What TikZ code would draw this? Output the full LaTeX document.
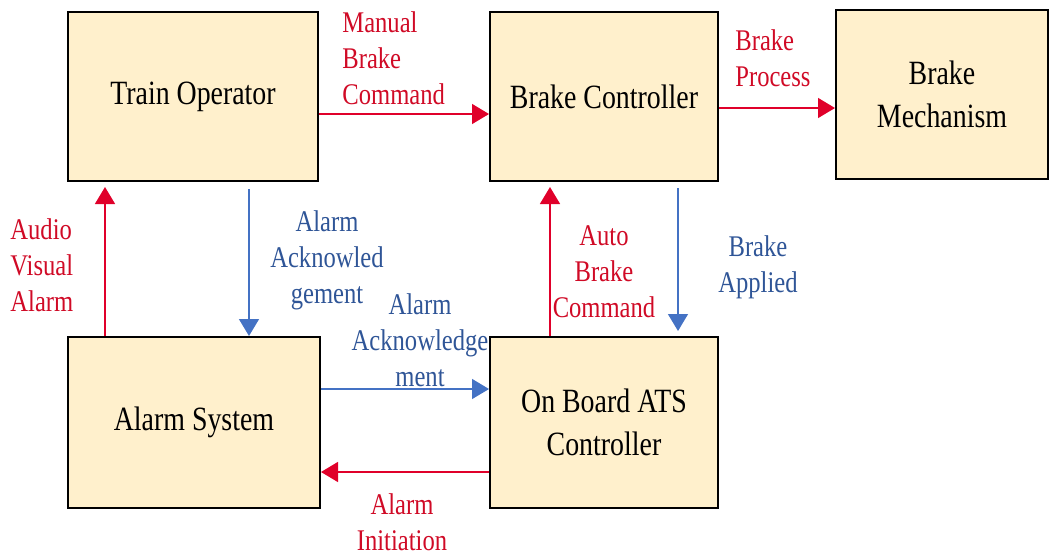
\documentclass[tikz,border=0pt]{standalone}
\usepackage{fontspec}
\setmainfont{Liberation Serif}[FakeStretch=0.82]
\usetikzlibrary{arrows.meta}

\definecolor{boxfill}{HTML}{FFF0CC}
\definecolor{linered}{HTML}{E0002A}
\definecolor{textred}{HTML}{D00A26}
\definecolor{lineblue}{HTML}{4472C4}
\definecolor{textblue}{HTML}{2F5597}

\begin{document}
\begin{tikzpicture}[
        x=0.5pt, y=-0.5pt,
        block/.style={draw, line width=1pt, fill=boxfill, align=center,
            minimum height=84.5pt, font=\fontsize{17}{21.5}\selectfont},
        redarrow/.style={-{Triangle[length=8.5pt,width=10pt]}, draw=linered, line width=0.7pt},
        bluearrow/.style={-{Triangle[length=8.5pt,width=10pt]}, draw=lineblue, line width=0.7pt},
        redlabel/.style={text=textred, inner sep=0pt, font=\fontsize{15}{18}\selectfont},
        bluelabel/.style={text=textblue, inner sep=0pt, font=\fontsize{15}{18}\selectfont}
    ]

    \useasboundingbox (0,0) rectangle (1050,554);

    % blocks
    \node[block, minimum width=125pt] (op) at (193,96.5) {Train Operator};
    \node[block, minimum width=114pt] (bc) at (604,96.5) {Brake Controller};
    \node[block, minimum width=106pt] (bm) at (942,94.5) {Brake\\Mechanism};
    \node[block, minimum width=126pt, minimum height=85.5pt] (as) at (194,422.5) {Alarm System};
    \node[block, minimum width=114pt, minimum height=85.5pt] (ats) at (604,422.5) {On Board ATS\\Controller};

    % connectors
    \draw[redarrow] ([yshift=-8.75pt]op.east) -- ([yshift=-8.75pt]op.east -| bc.west);
    \draw[redarrow] ([yshift=-5.75pt]bc.east) -- ([yshift=-5.75pt]bc.east -| bm.west);
    \draw[redarrow] ([xshift=19pt]as.north west) -- ([xshift=19pt,yshift=-2.5pt]op.south west);
    \draw[bluearrow] ([xshift=91pt,yshift=-3.5pt]op.south west) -- ([xshift=91pt]as.north west);
    \draw[redarrow] ([xshift=30.5pt]ats.north west) -- ([xshift=30.5pt,yshift=-2.5pt]bc.south west);
    \draw[bluearrow] ([xshift=94.5pt,yshift=-3pt]bc.south west) -- ([xshift=94.5pt,yshift=2.5pt]ats.north west);
    \draw[bluearrow] ([yshift=-26.5pt]as.north east) -- ([yshift=-26.5pt]as.north east -| ats.west);
    \draw[redarrow] ([yshift=-68pt]ats.north west) -- ([yshift=-68pt]ats.north west -| as.east);

    % labels
    \node[redlabel, anchor=west, align=left] (mbc) at (342,58) {Manual\\Brake\\Command};
    \node[redlabel, anchor=west, align=left] (bp) at (735,58.5) {Brake\\Process};
    \node[redlabel, anchor=west, align=left] (ava) at (10,265) {Audio\\Visual\\Alarm};
    \node[bluelabel, align=center] (aak) at (327,260) {Alarm\\Acknowled\\gement};
    \node[redlabel, align=center] (abc) at (604,272) {Auto\\Brake\\Command};
    \node[bluelabel, align=center] (ba) at (758,267) {Brake\\Applied};
    \node[bluelabel, align=center] (aam) at (420,340) {Alarm\\Acknowledge\\ment};
    \node[redlabel, align=center] (ai) at (402,522) {Alarm\\Initiation};
\end{tikzpicture}
\end{document}
